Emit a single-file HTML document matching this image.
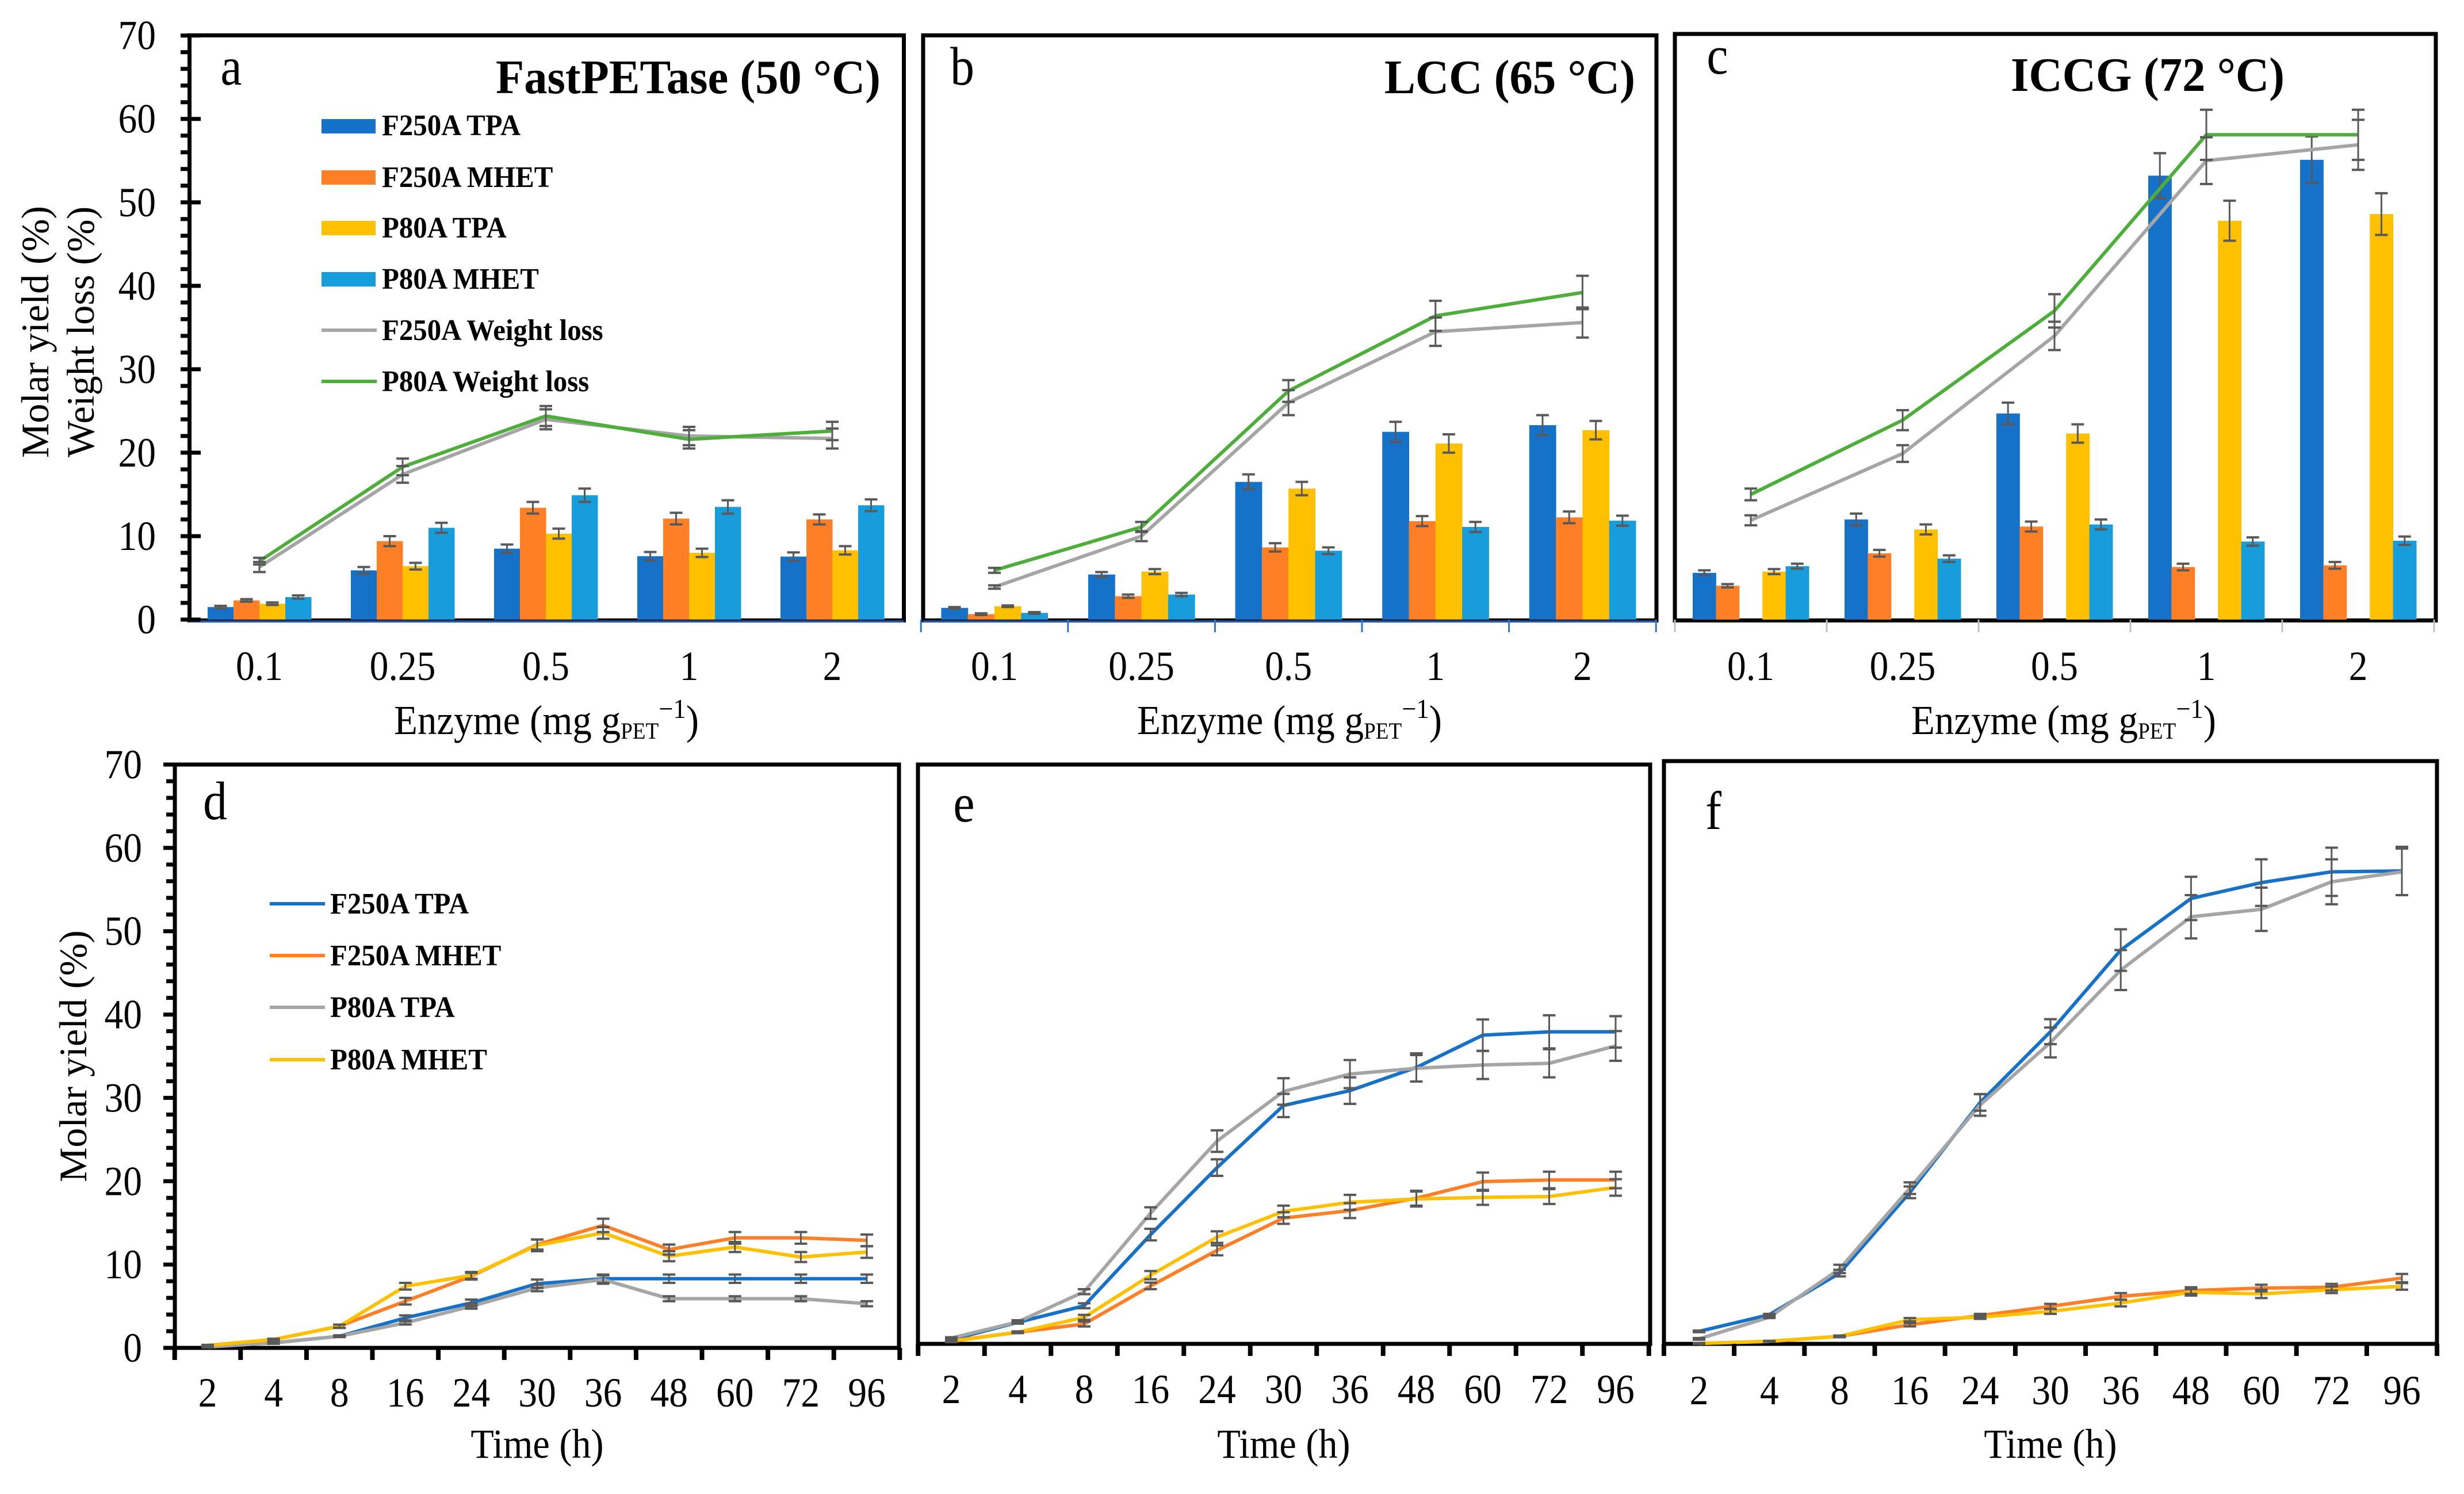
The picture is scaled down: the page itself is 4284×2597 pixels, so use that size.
<!DOCTYPE html>
<html lang="en">
<head>
<meta charset="utf-8">
<title>PET hydrolysis charts</title>
<style>
html,body{margin:0;padding:0;background:#fff;}
body{width:4284px;height:2597px;overflow:hidden;}
svg{display:block;font-family:"Liberation Serif",serif;fill:#000;}
.tick{font-size:72px;}
.axt{font-size:72px;}
.yt{font-size:68px;}
.leg{font-size:52px;font-weight:bold;}
.ttl{font-size:84px;font-weight:bold;}
.let{font-size:94px;}
.frame{fill:none;stroke:#000;stroke-width:7;}
</style>
</head>
<body>
<svg id="figure" xmlns="http://www.w3.org/2000/svg" width="4284" height="2597" viewBox="0 0 4284 2597">
  <rect class="frame" x="329.5" y="61.5" width="1242" height="1017"/>
  <rect class="frame" x="1605" y="61.5" width="1275" height="1017"/>
  <rect class="frame" x="2912" y="59" width="1323" height="1019.5"/>
  <rect class="frame" x="304" y="1329" width="1259" height="1014"/>
  <rect class="frame" x="1596" y="1329" width="1273" height="1007"/>
  <rect class="frame" x="2893" y="1323" width="1344" height="1013"/>

  <g id="marks"></g>
  <g id="axes"></g>

  <text class="let" transform="translate(402,147) scale(.89,1)" text-anchor="middle">a</text>
  <text class="let" transform="translate(1673,147) scale(.89,1)" text-anchor="middle">b</text>
  <text class="let" transform="translate(2986,128) scale(.89,1)" text-anchor="middle">c</text>
  <text class="let" transform="translate(374,1424) scale(.89,1)" text-anchor="middle">d</text>
  <text class="let" transform="translate(1676,1428) scale(.89,1)" text-anchor="middle">e</text>
  <text class="let" transform="translate(2979,1441) scale(.89,1)" text-anchor="middle">f</text>

  <text class="ttl" x="862" y="162" textLength="669" lengthAdjust="spacingAndGlyphs">FastPETase (50 °C)</text>
  <text class="ttl" x="2407" y="162" textLength="436" lengthAdjust="spacingAndGlyphs">LCC (65 °C)</text>
  <text class="ttl" x="3496" y="158" textLength="476" lengthAdjust="spacingAndGlyphs">ICCG (72 °C)</text>

  <text class="yt" transform="translate(84,577) rotate(-90)" text-anchor="middle">Molar yield (%)</text>
  <text class="yt" transform="translate(163,577) rotate(-90)" text-anchor="middle">Weight loss (%)</text>
  <text class="yt" transform="translate(150,1836) rotate(-90)" text-anchor="middle">Molar yield (%)</text>

  <text class="axt" transform="translate(950,1276) scale(.93,1)" text-anchor="middle">Enzyme (mg g<tspan font-size="40" dy="8">PET</tspan><tspan font-size="48" dy="-36">−1</tspan><tspan dy="28">)</tspan></text>
  <text class="axt" transform="translate(2242,1276) scale(.93,1)" text-anchor="middle">Enzyme (mg g<tspan font-size="40" dy="8">PET</tspan><tspan font-size="48" dy="-36">−1</tspan><tspan dy="28">)</tspan></text>
  <text class="axt" transform="translate(3588,1276) scale(.93,1)" text-anchor="middle">Enzyme (mg g<tspan font-size="40" dy="8">PET</tspan><tspan font-size="48" dy="-36">−1</tspan><tspan dy="28">)</tspan></text>
  <text class="axt" transform="translate(934,2534) scale(.92,1)" text-anchor="middle">Time (h)</text>
  <text class="axt" transform="translate(2232,2534) scale(.92,1)" text-anchor="middle">Time (h)</text>
  <text class="axt" transform="translate(3565,2534) scale(.92,1)" text-anchor="middle">Time (h)</text>

  <g>
    <rect x="559" y="207" width="94" height="25" fill="#1672C8"/>
    <text class="leg" transform="translate(664,235) scale(.94,1)">F250A TPA</text>
    <rect x="559" y="296" width="94" height="25" fill="#FF7F27"/>
    <text class="leg" transform="translate(664,325) scale(.94,1)">F250A MHET</text>
    <rect x="559" y="384" width="94" height="25" fill="#FFC000"/>
    <text class="leg" transform="translate(664,413) scale(.94,1)">P80A TPA</text>
    <rect x="559" y="473" width="94" height="25" fill="#179DDB"/>
    <text class="leg" transform="translate(664,502) scale(.94,1)">P80A MHET</text>
    <line x1="559" x2="655" y1="574" y2="574" stroke="#A5A5A5" stroke-width="6"/>
    <text class="leg" transform="translate(664,591) scale(.94,1)">F250A Weight loss</text>
    <line x1="559" x2="655" y1="663" y2="663" stroke="#4EAE3A" stroke-width="6"/>
    <text class="leg" transform="translate(664,680) scale(.94,1)">P80A Weight loss</text>
  </g>

  <g>
    <line x1="469" x2="565" y1="1571" y2="1571" stroke="#1672C8" stroke-width="6"/>
    <text class="leg" transform="translate(574,1588) scale(.94,1)">F250A TPA</text>
    <line x1="469" x2="565" y1="1661" y2="1661" stroke="#FF7F27" stroke-width="6"/>
    <text class="leg" transform="translate(574,1678) scale(.94,1)">F250A MHET</text>
    <line x1="469" x2="565" y1="1751" y2="1751" stroke="#A5A5A5" stroke-width="6"/>
    <text class="leg" transform="translate(574,1768) scale(.94,1)">P80A TPA</text>
    <line x1="469" x2="565" y1="1842" y2="1842" stroke="#FFC000" stroke-width="6"/>
    <text class="leg" transform="translate(574,1859) scale(.94,1)">P80A MHET</text>
  </g>
</svg>

<script>
// Shared categories and tick labels
const enzymeLabels = ['0.1', '0.25', '0.5', '1', '2'];
const timeLabels = ['2', '4', '8', '16', '24', '30', '36', '48', '60', '72', '96'];
const yTickValues = [0, 10, 20, 30, 40, 50, 60, 70];
const yMinorTickValues = [2, 4, 6, 8, 12, 14, 16, 18, 22, 24, 26, 28, 32, 34, 36, 38, 42, 44, 46, 48, 52, 54, 56, 58, 62, 64, 66, 68];

// Panel a (FastPETase)
const aF250Tpa = [1.5, 5.9, 8.5, 7.6, 7.55];
const aF250TpaErr = [0.15, 0.4, 0.5, 0.5, 0.5];
const aF250Mhet = [2.3, 9.4, 13.4, 12.1, 12.0];
const aF250MhetErr = [0.15, 0.6, 0.7, 0.7, 0.6];
const aP80Tpa = [1.9, 6.4, 10.3, 8.0, 8.3];
const aP80TpaErr = [0.15, 0.4, 0.6, 0.5, 0.5];
const aP80Mhet = [2.7, 11.0, 14.9, 13.5, 13.7];
const aP80MhetErr = [0.2, 0.6, 0.8, 0.8, 0.7];
const aF250Loss = [6.3, 17.4, 24.0, 22.0, 21.7];
const aF250LossErr = [0.6, 1.0, 1.2, 1.1, 1.2];
const aP80Loss = [7.0, 18.3, 24.4, 21.6, 22.6];
const aP80LossErr = [0.4, 1.0, 1.2, 1.1, 1.1];

// Panel b (LCC)
const bF250Tpa = [1.4, 5.4, 16.5, 22.5, 23.3];
const bF250TpaErr = [0.1, 0.3, 0.9, 1.2, 1.2];
const bF250Mhet = [0.65, 2.8, 8.65, 11.8, 12.25];
const bF250MhetErr = [0.1, 0.2, 0.5, 0.6, 0.7];
const bP80Tpa = [1.6, 5.75, 15.7, 21.1, 22.7];
const bP80TpaErr = [0.1, 0.3, 0.8, 1.1, 1.1];
const bP80Mhet = [0.8, 3.0, 8.25, 11.1, 11.85];
const bP80MhetErr = [0.1, 0.2, 0.4, 0.6, 0.6];
const bF250Loss = [3.9, 10.0, 26.0, 34.5, 35.6];
const bF250LossErr = [0.2, 0.6, 1.5, 1.7, 1.8];
const bP80Loss = [5.9, 11.1, 27.4, 36.4, 39.2];
const bP80LossErr = [0.3, 0.6, 1.3, 1.8, 2.0];

// Panel c (ICCG)
const cF250Tpa = [5.6, 12.0, 24.7, 53.2, 55.1];
const cF250TpaErr = [0.3, 0.7, 1.3, 2.7, 2.8];
const cF250Mhet = [4.05, 7.95, 11.15, 6.3, 6.5];
const cF250MhetErr = [0.2, 0.4, 0.6, 0.4, 0.4];
const cP80Tpa = [5.75, 10.8, 22.3, 47.8, 48.6];
const cP80TpaErr = [0.3, 0.6, 1.1, 2.4, 2.5];
const cP80Mhet = [6.4, 7.3, 11.4, 9.35, 9.45];
const cP80MhetErr = [0.3, 0.4, 0.6, 0.5, 0.5];
const cF250Loss = [11.9, 19.9, 34.0, 55.0, 56.9];
const cF250LossErr = [0.6, 1.0, 1.7, 2.8, 3.0];
const cP80Loss = [15.0, 23.9, 37.0, 58.1, 58.1];
const cP80LossErr = [0.7, 1.2, 2.0, 3.0, 3.0];

// Panel d (FastPETase time course)
const dF250Tpa = [0.2, 0.6, 1.4, 3.6, 5.4, 7.7, 8.3, 8.3, 8.3, 8.3, 8.3];
const dF250TpaErr = [0.05, 0.1, 0.1, 0.3, 0.4, 0.5, 0.5, 0.5, 0.5, 0.5, 0.5];
const dF250Mhet = [0.3, 1.0, 2.6, 5.6, 8.6, 12.4, 14.7, 11.8, 13.2, 13.2, 12.9];
const dF250MhetErr = [0.05, 0.1, 0.2, 0.4, 0.4, 0.6, 0.8, 0.6, 0.7, 0.7, 0.7];
const dP80Tpa = [0.1, 0.6, 1.4, 3.0, 5.0, 7.2, 8.2, 5.9, 5.9, 5.9, 5.3];
const dP80TpaErr = [0.05, 0.1, 0.1, 0.2, 0.3, 0.4, 0.5, 0.3, 0.3, 0.3, 0.3];
const dP80Mhet = [0.3, 1.0, 2.6, 7.4, 8.7, 12.3, 13.8, 11.0, 12.1, 10.9, 11.5];
const dP80MhetErr = [0.05, 0.1, 0.2, 0.4, 0.4, 0.7, 0.7, 0.6, 0.6, 0.6, 0.7];

// Panel e (LCC time course)
const eF250Tpa = [0.5, 2.6, 4.6, 13.2, 21.3, 28.8, 30.6, 33.4, 37.3, 37.7, 37.7];
const eF250TpaErr = [0.1, 0.15, 0.3, 0.7, 1.0, 1.4, 1.6, 1.7, 1.9, 2.0, 1.9];
const eF250Mhet = [0.35, 1.4, 2.4, 7.0, 11.3, 15.2, 16.1, 17.6, 19.6, 19.8, 19.8];
const eF250MhetErr = [0.1, 0.1, 0.3, 0.4, 0.6, 0.7, 0.9, 0.9, 1.1, 1.0, 1.0];
const eP80Tpa = [0.7, 2.65, 6.3, 15.8, 24.5, 30.5, 32.6, 33.3, 33.7, 33.9, 36.0];
const eP80TpaErr = [0.1, 0.2, 0.3, 0.7, 1.3, 1.6, 1.7, 1.6, 1.7, 1.7, 1.8];
const eP80Mhet = [0.3, 1.4, 3.2, 8.3, 12.9, 16.0, 17.1, 17.5, 17.7, 17.8, 18.9];
const eP80MhetErr = [0.1, 0.1, 0.3, 0.5, 0.7, 0.7, 0.9, 0.9, 0.9, 0.9, 1.0];

// Panel f (ICCG time course)
const fF250Tpa = [1.5, 3.5, 8.5, 18.2, 29.0, 37.5, 47.3, 53.5, 55.4, 56.7, 56.8];
const fF250TpaErr = [0.1, 0.1, 0.4, 0.7, 1.0, 1.5, 2.5, 2.6, 2.8, 2.9, 2.9];
const fF250Mhet = [0.05, 0.3, 0.9, 2.3, 3.4, 4.5, 5.7, 6.4, 6.7, 6.8, 7.9];
const fF250MhetErr = [0.05, 0.05, 0.1, 0.2, 0.2, 0.3, 0.4, 0.4, 0.4, 0.4, 0.5];
const fP80Tpa = [0.6, 3.2, 9.0, 18.7, 28.7, 36.2, 44.9, 51.3, 52.2, 55.5, 56.7];
const fP80TpaErr = [0.1, 0.1, 0.5, 0.7, 1.3, 1.8, 2.4, 2.6, 2.6, 2.7, 2.8];
const fP80Mhet = [0.05, 0.3, 0.9, 2.9, 3.2, 3.9, 4.9, 6.2, 6.0, 6.5, 6.9];
const fP80MhetErr = [0.05, 0.05, 0.1, 0.2, 0.2, 0.3, 0.4, 0.4, 0.5, 0.4, 0.4];

const NS = 'http://www.w3.org/2000/svg';
const marksLayer = document.getElementById('marks');
const axesLayer = document.getElementById('axes');
const BLUE = '#1672C8', ORANGE = '#FF7F27', YELLOW = '#FFC000', SKY = '#179DDB', GREY = '#A5A5A5', GREEN = '#4EAE3A', ERR = '#595959';

function make(tag, parent, attrs, text) {
  const node = document.createElementNS(NS, tag);
  for (const k in attrs) node.setAttribute(k, attrs[k]);
  if (text !== undefined) node.textContent = text;
  parent.appendChild(node);
  return node;
}

function xScale(p, i) { return p.firstX + i * p.stepX; }
function yScale(p, v) { return p.bottom - v * (p.bottom - p.top) / 70; }

function drawErr(p, x, v, e, capHalf, key) {
  const g = make('g', marksLayer, { stroke: ERR, fill: 'none' });
  
  
  const hi = yScale(p, v + e), lo = yScale(p, v - e);
  make('line', g, { x1: x, x2: x, y1: hi, y2: lo, 'stroke-width': 3 });
  make('line', g, { x1: x - capHalf, x2: x + capHalf, y1: hi, y2: hi, 'stroke-width': 4 });
  make('line', g, { x1: x - capHalf, x2: x + capHalf, y1: lo, y2: lo, 'stroke-width': 4 });
}

function drawLine(p, s) {
  const pts = s.values.map((v, i) => xScale(p, i) + ',' + yScale(p, v)).join(' ');
  const line = make('polyline', marksLayer, { points: pts, fill: 'none', stroke: s.color, 'stroke-width': 6, 'stroke-linejoin': 'round' });
  
  
}

function drawLineErrs(p, s) {
  s.values.forEach((v, i) => {
    drawErr(p, xScale(p, i), v, s.errs[i], 11, p.id + '-' + s.key + '-' + i);
  });
}

function drawPanel(p) {
  // bars
  (p.bars || []).forEach((s) => {
    s.values.forEach((v, i) => {
      const x0 = xScale(p, i) - p.slotCount * p.barW / 2 + s.slot * p.barW;
      const r = make('rect', marksLayer, { x: x0, y: yScale(p, v), width: p.barW + 0.5, height: p.bottom - yScale(p, v), fill: s.color });
      
      
    });
  });
  // bar error bars
  (p.bars || []).forEach((s) => {
    s.values.forEach((v, i) => {
      const x0 = xScale(p, i) - p.slotCount * p.barW / 2 + s.slot * p.barW;
      drawErr(p, x0 + p.barW / 2, v, s.errs[i], 11, p.id + '-' + s.key + '-' + i);
    });
  });
  p.lines.forEach((s) => drawLine(p, s));
  p.lines.forEach((s) => drawLineErrs(p, s));

  // x baseline colour
  if (p.baseColor) {
    const base = make('line', axesLayer, { x1: p.left, x2: p.right, y1: p.bottom + 3, y2: p.bottom + 3, stroke: p.baseColor, 'stroke-width': 3 });
    
    
  }

  // x ticks
  if (p.tickColor) {
    const n = p.cats.length;
    for (let i = 0; i <= n; i++) {
      const tx = p.firstX - p.stepX / 2 + i * p.stepX;
      const t = make('line', axesLayer, { x1: tx, x2: tx, y1: p.bottom, y2: p.bottom + p.tickLen, stroke: p.tickColor, 'stroke-width': p.tickW });
      
      
    }
  }

  // x tick labels
  p.cats.forEach((c, i) => {
    const t = make('text', axesLayer, { class: 'tick', transform: 'translate(' + xScale(p, i) + ',' + p.catY + ') scale(.91,1)', 'text-anchor': 'middle' }, c);
    
    
  });

  // y axis
  if (p.yLabelRight) {
    yTickValues.forEach((v) => {
      const y = yScale(p, v);
      const lab = make('text', axesLayer, { class: 'tick', transform: 'translate(' + p.yLabelRight + ',' + (y + 24) + ') scale(.91,1)', 'text-anchor': 'end' }, String(v));
      
      
      const tk = make('line', axesLayer, { x1: p.yTickFrom, x2: p.yMajorTo, y1: y, y2: y, stroke: '#000', 'stroke-width': 7 });
      
      
    });
    yMinorTickValues.forEach((v) => {
      const y = yScale(p, v);
      const tk = make('line', axesLayer, { x1: p.yMinorFrom, x2: p.left, y1: y, y2: y, stroke: '#000', 'stroke-width': 7 });
      
      
    });
  }
}

const panels = [
  { id: 'panel-a', left: 329.5, right: 1571.5, top: 61.7, bottom: 1077, firstX: 451, stepX: 249, barW: 45, slotCount: 4, cats: enzymeLabels, catY: 1182,
    baseColor: '#2A5FC0', yLabelRight: 271, yTickFrom: 314, yMajorTo: 349, yMinorFrom: 314,
    bars: [
      { key: 'f250a-tpa', slot: 0, color: BLUE, values: aF250Tpa, errs: aF250TpaErr },
      { key: 'f250a-mhet', slot: 1, color: ORANGE, values: aF250Mhet, errs: aF250MhetErr },
      { key: 'p80a-tpa', slot: 2, color: YELLOW, values: aP80Tpa, errs: aP80TpaErr },
      { key: 'p80a-mhet', slot: 3, color: SKY, values: aP80Mhet, errs: aP80MhetErr }
    ],
    lines: [
      { key: 'f250a-weight-loss', color: GREY, values: aF250Loss, errs: aF250LossErr },
      { key: 'p80a-weight-loss', color: GREEN, values: aP80Loss, errs: aP80LossErr }
    ] },
  { id: 'panel-b', left: 1605, right: 2880, top: 61.7, bottom: 1077, firstX: 1729, stepX: 255.6, barW: 46.3, slotCount: 4, cats: enzymeLabels, catY: 1182,
    baseColor: '#2A5FC0', tickColor: '#2E75C6', tickLen: 22, tickW: 3,
    bars: [
      { key: 'f250a-tpa', slot: 0, color: BLUE, values: bF250Tpa, errs: bF250TpaErr },
      { key: 'f250a-mhet', slot: 1, color: ORANGE, values: bF250Mhet, errs: bF250MhetErr },
      { key: 'p80a-tpa', slot: 2, color: YELLOW, values: bP80Tpa, errs: bP80TpaErr },
      { key: 'p80a-mhet', slot: 3, color: SKY, values: bP80Mhet, errs: bP80MhetErr }
    ],
    lines: [
      { key: 'f250a-weight-loss', color: GREY, values: bF250Loss, errs: bF250LossErr },
      { key: 'p80a-weight-loss', color: GREEN, values: bP80Loss, errs: bP80LossErr }
    ] },
  { id: 'panel-c', left: 2912, right: 4235, top: 61.7, bottom: 1077, firstX: 3044, stepX: 264, barW: 40.4, slotCount: 5, cats: enzymeLabels, catY: 1182,
    tickColor: '#BFBFBF', tickLen: 22, tickW: 3,
    bars: [
      { key: 'f250a-tpa', slot: 0, color: BLUE, values: cF250Tpa, errs: cF250TpaErr },
      { key: 'f250a-mhet', slot: 1, color: ORANGE, values: cF250Mhet, errs: cF250MhetErr },
      { key: 'p80a-tpa', slot: 3, color: YELLOW, values: cP80Tpa, errs: cP80TpaErr },
      { key: 'p80a-mhet', slot: 4, color: SKY, values: cP80Mhet, errs: cP80MhetErr }
    ],
    lines: [
      { key: 'f250a-weight-loss', color: GREY, values: cF250Loss, errs: cF250LossErr },
      { key: 'p80a-weight-loss', color: GREEN, values: cP80Loss, errs: cP80LossErr }
    ] },
  { id: 'panel-d', left: 304, right: 1563, top: 1329, bottom: 2343, firstX: 361, stepX: 114.6, cats: timeLabels, catY: 2445,
    tickColor: '#000', tickLen: 21, tickW: 8, yLabelRight: 247, yTickFrom: 284, yMajorTo: 304, yMinorFrom: 289,
    lines: [
      { key: 'f250a-tpa', color: BLUE, values: dF250Tpa, errs: dF250TpaErr },
      { key: 'f250a-mhet', color: ORANGE, values: dF250Mhet, errs: dF250MhetErr },
      { key: 'p80a-tpa', color: GREY, values: dP80Tpa, errs: dP80TpaErr },
      { key: 'p80a-mhet', color: YELLOW, values: dP80Mhet, errs: dP80MhetErr }
    ] },
  { id: 'panel-e', left: 1596, right: 2869, top: 1329, bottom: 2336, firstX: 1654, stepX: 115.5, cats: timeLabels, catY: 2439,
    tickColor: '#000', tickLen: 21, tickW: 8,
    lines: [
      { key: 'f250a-tpa', color: BLUE, values: eF250Tpa, errs: eF250TpaErr },
      { key: 'f250a-mhet', color: ORANGE, values: eF250Mhet, errs: eF250MhetErr },
      { key: 'p80a-tpa', color: GREY, values: eP80Tpa, errs: eP80TpaErr },
      { key: 'p80a-mhet', color: YELLOW, values: eP80Mhet, errs: eP80MhetErr }
    ] },
  { id: 'panel-f', left: 2893, right: 4237, top: 1323, bottom: 2336, firstX: 2954, stepX: 122.2, cats: timeLabels, catY: 2441,
    tickColor: '#000', tickLen: 21, tickW: 8,
    lines: [
      { key: 'f250a-tpa', color: BLUE, values: fF250Tpa, errs: fF250TpaErr },
      { key: 'f250a-mhet', color: ORANGE, values: fF250Mhet, errs: fF250MhetErr },
      { key: 'p80a-tpa', color: GREY, values: fP80Tpa, errs: fP80TpaErr },
      { key: 'p80a-mhet', color: YELLOW, values: fP80Mhet, errs: fP80MhetErr }
    ] }
];

panels.forEach(drawPanel);
</script>
</body>
</html>
